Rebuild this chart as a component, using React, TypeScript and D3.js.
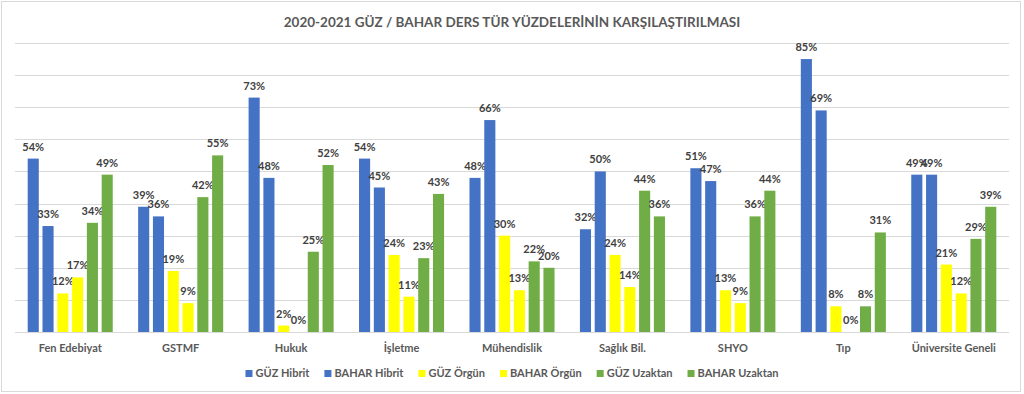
import * as d3 from 'd3';
import React, { useEffect, useRef } from 'react';

const categories = ['Fen Edebiyat', 'GSTMF', 'Hukuk', 'İşletme', 'Mühendislik', 'Sağlık Bil.', 'SHYO', 'Tıp', 'Üniversite Geneli'];
const seriesNames = ['GÜZ Hibrit', 'BAHAR Hibrit', 'GÜZ Örgün', 'BAHAR Örgün', 'GÜZ Uzaktan', 'BAHAR Uzaktan'];
const seriesColors = ['#4472C4', '#4472C4', '#FFFF00', '#FFFF00', '#70AD47', '#70AD47'];

const guzHibrit = [54, 39, 73, 54, 48, 32, 51, 85, 49];
const baharHibrit = [33, 36, 48, 45, 66, 50, 47, 69, 49];
const guzOrgun = [12, 19, 2, 24, 30, 24, 13, 8, 21];
const baharOrgun = [17, 9, 0, 11, 13, 14, 9, 0, 12];
const guzUzaktan = [34, 42, 25, 23, 22, 44, 36, 8, 29];
const baharUzaktan = [49, 55, 52, 43, 20, 36, 44, 31, 39];

const allSeries = [guzHibrit, baharHibrit, guzOrgun, baharOrgun, guzUzaktan, baharUzaktan];
const yTicks = [0, 10, 20, 30, 40, 50, 60, 70, 80, 90];

const title = '2020-2021 GÜZ / BAHAR DERS TÜR YÜZDELERİNİN KARŞILAŞTIRILMASI';

function App() {
    const ref = useRef<SVGSVGElement>(null);

    useEffect(() => {
        const svg = d3.select(ref.current);
        svg.selectAll('*').remove();

        const W = 1024, H = 394;
        const margin = { top: 43, right: 15, bottom: 62, left: 15 };
        const font = 'Lato, "Open Sans", sans-serif';

        // chart frame
        svg.append('rect')
            .attr('x', 1.5).attr('y', 1.5)
            .attr('width', W - 5).attr('height', H - 4)
            .attr('fill', '#fff').attr('stroke', '#d9d9d9');

        svg.append('text')
            .attr('x', W / 2).attr('y', 27)
            .attr('text-anchor', 'middle')
            .attr('font-family', font).attr('font-weight', 'bold')
            .attr('font-size', 13.5).attr('fill', '#595959')
            .text(title);

        const x0 = d3.scaleBand()
            .domain(categories)
            .range([margin.left, W - margin.right])
            .paddingInner(0.23).paddingOuter(0.115);

        const x1 = d3.scaleBand()
            .domain(seriesNames)
            .range([0, x0.bandwidth()])
            .paddingInner(0.25).paddingOuter(0);

        const y = d3.scaleLinear()
            .domain([0, 90])
            .range([H - margin.bottom, margin.top]);

        svg.append('g')
            .selectAll('line')
            .data(yTicks)
            .enter().append('line')
            .attr('x1', margin.left).attr('x2', W - margin.right)
            .attr('y1', d => Math.round(y(d)) + 0.5).attr('y2', d => Math.round(y(d)) + 0.5)
            .attr('stroke', '#d9d9d9').attr('stroke-width', 1);

        const groups = svg.append('g')
            .selectAll('g')
            .data(categories)
            .enter().append('g')
            .attr('transform', d => `translate(${x0(d)},0)`);

        const cells = groups.selectAll('g')
            .data((c, ci) => seriesNames.map((s, si) => ({ s, si, v: allSeries[si][ci] })))
            .enter().append('g');

        cells.append('rect')
            .attr('x', d => x1(d.s))
            .attr('width', x1.bandwidth())
            .attr('y', d => y(d.v))
            .attr('height', d => y(0) - y(d.v))
            .attr('fill', d => seriesColors[d.si]);

        cells.append('text')
            .attr('x', d => x1(d.s) + x1.bandwidth() / 2)
            .attr('y', d => y(d.v) - 8)
            .attr('text-anchor', 'middle')
            .attr('font-family', font).attr('font-weight', 'bold')
            .attr('font-size', 11).attr('fill', '#404040')
            .text(d => `${d.v}%`);

        svg.append('g')
            .selectAll('text')
            .data(categories)
            .enter().append('text')
            .attr('x', d => x0(d) + x0.bandwidth() / 2)
            .attr('y', y(0) + 20)
            .attr('text-anchor', 'middle')
            .attr('font-family', font).attr('font-weight', 'bold')
            .attr('font-size', 11).attr('fill', '#595959')
            .text(d => d);

        // legend, laid out by measured text widths
        const legend = svg.append('g');
        const items = legend.selectAll('g')
            .data(seriesNames)
            .enter().append('g');
        items.append('rect')
            .attr('width', 7).attr('height', 7)
            .attr('y', -7)
            .attr('fill', (d, i) => seriesColors[i]);
        items.append('text')
            .attr('x', 10)
            .attr('font-family', font).attr('font-weight', 'bold')
            .attr('font-size', 11).attr('fill', '#595959')
            .text(d => d);
        const widths = items.nodes().map(n => (n.querySelector('text') as SVGTextElement).getComputedTextLength() + 10);
        const gap = 15;
        const total = d3.sum(widths) + gap * (widths.length - 1);
        let cx = W / 2 - total / 2;
        items.each(function (d, i) {
            d3.select(this).attr('transform', `translate(${cx},${377})`);
            cx += widths[i] + gap;
        });
    }, []);

    return (
        <svg ref={ref} width={1024} height={394}
            style={{ position: 'absolute', left: 0, top: 0, background: '#fff' }} />
    );
}

export default App;
